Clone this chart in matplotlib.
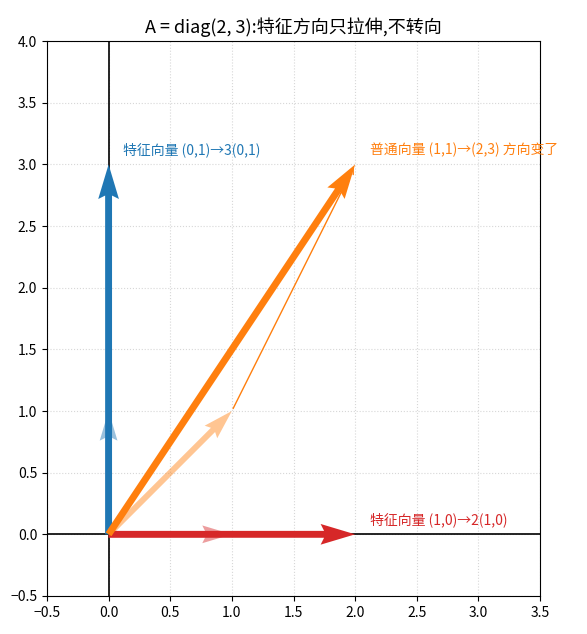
import matplotlib
matplotlib.use("Agg")
import matplotlib.pyplot as plt
import numpy as np

plt.rcParams['font.family'] = ['Noto Sans CJK SC', 'DejaVu Sans']

A = np.array([[2, 0], [0, 3]])
vecs = [np.array([1, 0]), np.array([0, 1]), np.array([1, 1])]
colors = ['#d62728', '#1f77b4', '#ff7f0e']
labels = ['特征向量 (1,0)→2(1,0)', '特征向量 (0,1)→3(0,1)', '普通向量 (1,1)→(2,3) 方向变了']

fig, ax = plt.subplots(figsize=(5.87, 6.34), dpi=100)
ax.axhline(0, color='black', lw=1.2)
ax.axvline(0, color='black', lw=1.2)

for v, c, lab in zip(vecs, colors, labels):
    w = A @ v
    ax.quiver(0, 0, v[0], v[1], angles='xy', scale_units='xy', scale=1,
              color=c, alpha=0.45, width=0.012, zorder=2)
    ax.quiver(0, 0, w[0], w[1], angles='xy', scale_units='xy', scale=1,
              color=c, width=0.014, zorder=3)
    ax.text(w[0] + 0.12, w[1] + 0.08, lab, color=c, fontsize=10)

v, w = vecs[2], A @ vecs[2]
ax.annotate('', xy=(w[0], w[1]), xytext=(v[0], v[1]),
            arrowprops=dict(arrowstyle='->', color=colors[2], lw=1))

ax.set_xlim(-0.5, 3.5)
ax.set_ylim(-0.5, 4.0)
ax.set_aspect('equal')
ax.set_xticks(np.arange(-0.5, 3.51, 0.5))
ax.set_yticks(np.arange(-0.5, 4.01, 0.5))
ax.grid(True, ls=':', alpha=0.5)
ax.set_title('A = diag(2, 3):特征方向只拉伸,不转向', fontsize=13)
plt.subplots_adjust(left=0.07, right=0.93, top=0.935, bottom=0.06)
fig.savefig('out.png', dpi=100)
